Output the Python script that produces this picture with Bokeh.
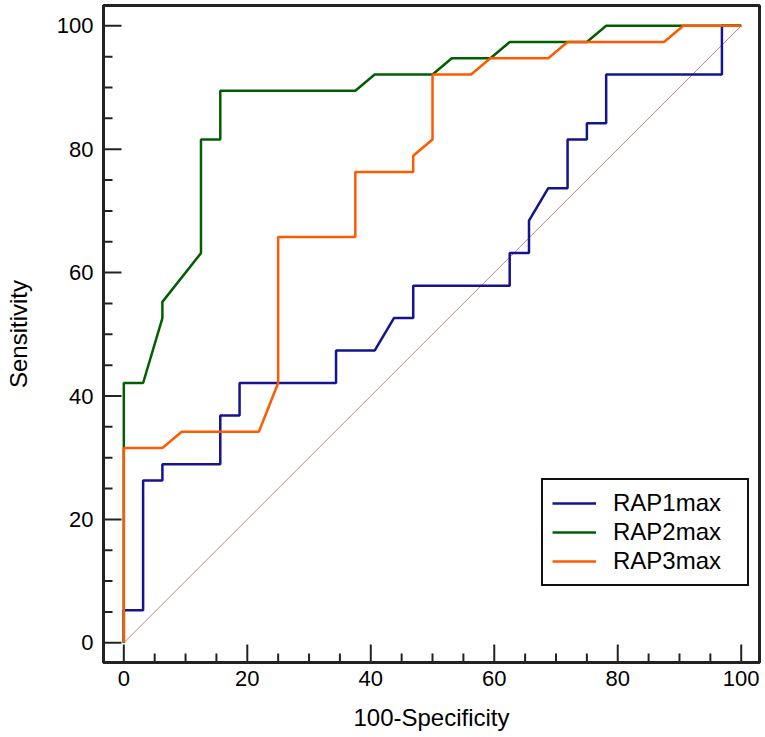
import math
from bokeh.plotting import figure
from bokeh.models import Range1d, FixedTicker, Legend, LegendItem
from bokeh.embed import file_html
from bokeh.resources import INLINE

# ROC coordinates (100-Specificity, Sensitivity)
rap1_x = [0, 0, 3.125, 3.125, 6.25, 6.25, 15.625, 15.625, 18.75, 18.75, 34.375, 34.375,
          40.625, 43.75, 46.875, 46.875, 62.5, 62.5, 65.625, 65.625, 68.75, 71.875, 71.875,
          75, 75, 78.125, 78.125, 96.875, 96.875, 100]
rap1_y = [0, 5.26, 5.26, 26.32, 26.32, 28.95, 28.95, 36.84, 36.84, 42.11, 42.11, 47.37,
          47.37, 52.63, 52.63, 57.89, 57.89, 63.16, 63.16, 68.42, 73.68, 73.68, 81.58,
          81.58, 84.21, 84.21, 92.11, 92.11, 100, 100]

rap2_x = [0, 0, 0, 3.125, 6.25, 6.25, 12.5, 12.5, 15.625, 15.625, 37.5, 40.625, 50,
          53.125, 59.375, 62.5, 75, 78.125, 100]
rap2_y = [0, 31.58, 42.11, 42.11, 52.63, 55.26, 63.16, 81.58, 81.58, 89.47, 89.47, 92.11,
          92.11, 94.74, 94.74, 97.37, 97.37, 100, 100]

rap3_x = [0, 0, 6.25, 9.375, 21.875, 25, 25, 37.5, 37.5, 46.875, 46.875, 50, 50, 56.25,
          59.375, 68.75, 71.875, 87.5, 90.625, 100]
rap3_y = [0, 31.58, 31.58, 34.21, 34.21, 42.11, 65.79, 65.79, 76.32, 76.32, 78.95, 81.58,
          92.11, 92.11, 94.74, 94.74, 97.37, 97.37, 100, 100]

ref_x = [0, 100]
ref_y = [0, 100]

major_ticks = [0, 20, 40, 60, 80, 100]
minor_ticks = [5, 10, 15, 25, 30, 35, 45, 50, 55, 65, 70, 75, 85, 90, 95]

names = ["RAP1max", "RAP2max", "RAP3max"]
colors = ["#14148c", "#005f00", "#ff5a00"]

FONT = "Liberation Sans"
AX = "#222222"

X0, X1 = -3.29, 102.96
Y0, Y1 = -3.19, 103.29

p = figure(width=765, height=737, output_backend="svg", toolbar_location=None,
           x_range=Range1d(X0, X1), y_range=Range1d(Y0, Y1),
           min_border_left=103, min_border_right=6, min_border_top=5, min_border_bottom=75)
p.background_fill_color = "white"
p.border_fill_color = "white"
p.grid.visible = False
p.outline_line_color = AX
p.outline_line_width = 3

# inward tick marks (screen-length rays anchored at the axis lines)
p.ray(x=major_ticks, y=[Y0] * len(major_ticks), length=18, angle=math.pi / 2,
      length_units="screen", line_color=AX, line_width=2)
p.ray(x=minor_ticks, y=[Y0] * len(minor_ticks), length=9, angle=math.pi / 2,
      length_units="screen", line_color=AX, line_width=2)
p.ray(x=[X0] * len(major_ticks), y=major_ticks, length=18, angle=0,
      length_units="screen", line_color=AX, line_width=2)
p.ray(x=[X0] * len(minor_ticks), y=minor_ticks, length=9, angle=0,
      length_units="screen", line_color=AX, line_width=2)

p.line(ref_x, ref_y, line_color="#c08888", line_width=1)
r1 = p.line(rap1_x, rap1_y, line_color=colors[0], line_width=2.5)
r2 = p.line(rap2_x, rap2_y, line_color=colors[1], line_width=2.5)
r3 = p.line(rap3_x, rap3_y, line_color=colors[2], line_width=2.5)

for ax in (p.xaxis[0], p.yaxis[0]):
    ax.ticker = FixedTicker(ticks=major_ticks, minor_ticks=minor_ticks)
    ax.axis_line_color = AX
    ax.axis_line_width = 3
    ax.major_tick_line_color = None
    ax.minor_tick_line_color = None
    ax.major_tick_in = 0
    ax.major_tick_out = 0
    ax.minor_tick_in = 0
    ax.minor_tick_out = 0
    ax.major_label_text_font = FONT
    ax.major_label_text_font_size = "22px"
    ax.major_label_text_color = "black"
    ax.axis_label_text_font = FONT
    ax.axis_label_text_font_size = "24px"
    ax.axis_label_text_font_style = "normal"
    ax.axis_label_text_color = "black"

p.xaxis.axis_label = "100-Specificity"
p.yaxis.axis_label = "Sensitivity"
p.xaxis.major_label_standoff = 8
p.yaxis.major_label_standoff = 10
p.xaxis.axis_label_standoff = 15
p.yaxis.axis_label_standoff = 22

legend = Legend(items=[LegendItem(label=names[0], renderers=[r1]),
                       LegendItem(label=names[1], renderers=[r2]),
                       LegendItem(label=names[2], renderers=[r3])],
                location=(438, 76))
legend.label_text_font = FONT
legend.label_text_font_size = "24px"
legend.label_text_color = "black"
legend.border_line_color = "#111111"
legend.border_line_width = 2
legend.border_line_alpha = 1
legend.background_fill_alpha = 1
legend.padding = 9
legend.spacing = 1
legend.glyph_width = 44
legend.label_standoff = 17
legend.label_width = 125
legend.margin = 0
p.add_layout(legend, "center")

open("out.html", "w").write(file_html(p, INLINE))
